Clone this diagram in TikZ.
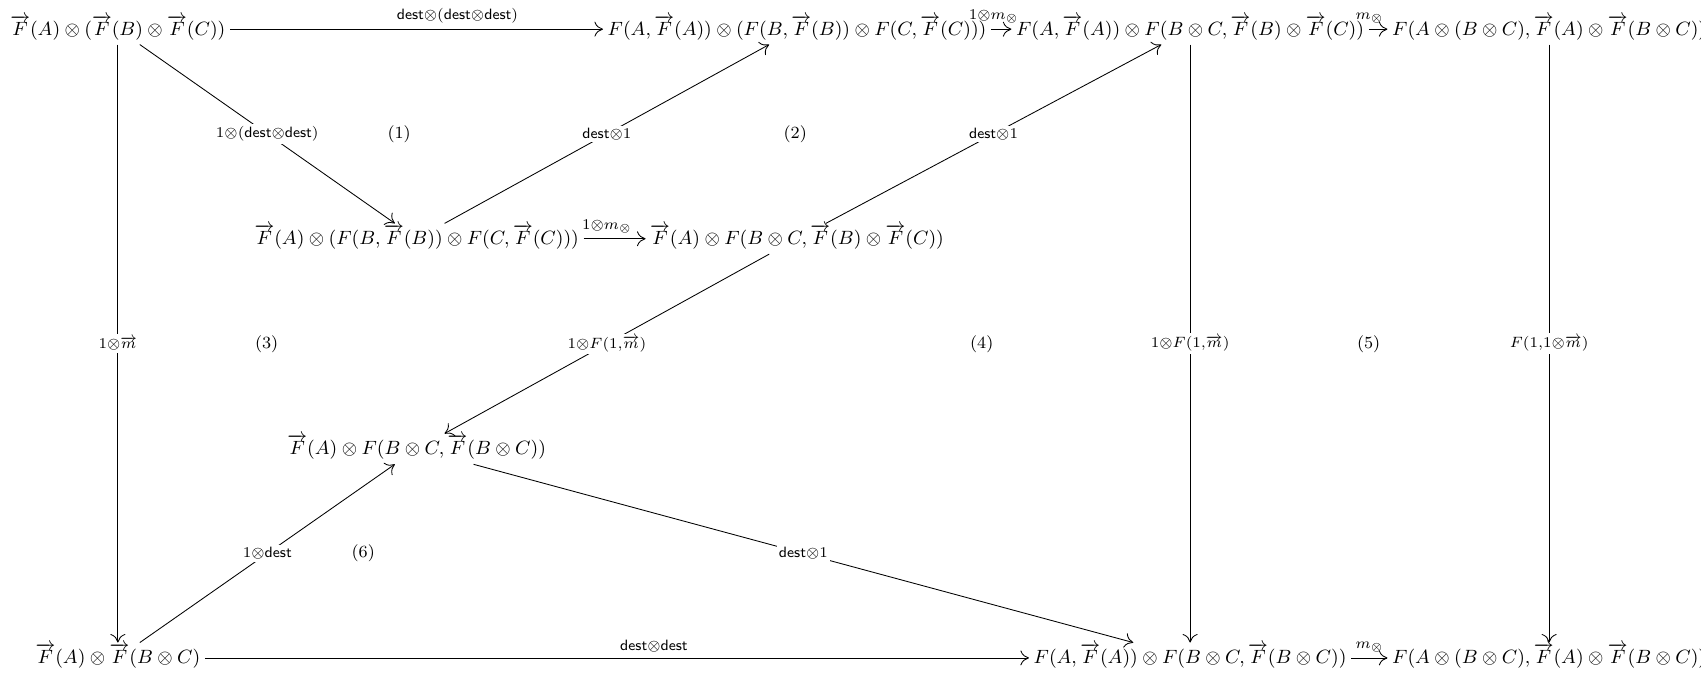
\documentclass[tikz,border=0pt]{standalone}
\usepackage{amsmath,amssymb}
\usepackage{tikz}
\usetikzlibrary{arrows.meta,calc}
\newcommand{\vF}{\overrightarrow{F}}
\newcommand{\vm}{\overrightarrow{m}}
\newcommand{\dest}{\mathsf{dest}}

\begin{document}
\begin{tikzpicture}[
  obj/.style={inner sep=2pt, font=\small, text height=7.8pt, text depth=2.2pt},
  arr/.style={-{To[length=4pt,width=7pt]}},
  lab/.style={inner sep=2.5pt, execute at begin node=$\scriptstyle, execute at end node=$},
  desc/.style={lab, fill=white, inner sep=1pt},
  reg/.style={font=\footnotesize}]
  \useasboundingbox (0,0) rectangle (28,11.16);
  % objects
  \node[obj] (top1) at (1.94,10.68) {$\vF(A)\otimes(\vF(B)\otimes\vF(C))$};
  \node[obj] (top2) at (13.12,10.68) {$F(A,\vF(A))\otimes(F(B,\vF(B))\otimes F(C,\vF(C)))$};
  \node[obj] (top3) at (19.59,10.68) {$F(A,\vF(A))\otimes F(B\otimes C,\vF(B)\otimes\vF(C))$};
  \node[obj] (top4) at (25.50,10.68) {$F(A\otimes(B\otimes C),\vF(A)\otimes\vF(B\otimes C))$};
  \node[obj] (mid1) at (6.86,7.23) {$\vF(A)\otimes(F(B,\vF(B))\otimes F(C,\vF(C)))$};
  \node[obj] (mid2) at (13.12,7.23) {$\vF(A)\otimes F(B\otimes C,\vF(B)\otimes\vF(C))$};
  \node[obj] (low1) at (6.86,3.77) {$\vF(A)\otimes F(B\otimes C,\vF(B\otimes C))$};
  \node[obj] (bot1) at (1.94,0.33) {$\vF(A)\otimes\vF(B\otimes C)$};
  \node[obj] (bot2) at (19.59,0.33) {$F(A,\vF(A))\otimes F(B\otimes C,\vF(B\otimes C))$};
  \node[obj] (bot3) at (25.50,0.33) {$F(A\otimes(B\otimes C),\vF(A)\otimes\vF(B\otimes C))$};
  % morphisms
  \draw[arr] (top1) -- (top2) node[lab,above] at ($(top1)!.5!(top2)$) {\dest\otimes(\dest\otimes\dest)};
  \draw[arr] (top2) -- (top3) node[lab,above] at ($(top2)!.5!(top3)$) {1\otimes m_\otimes};
  \draw[arr] (top3) -- (top4) node[lab,above] at ($(top3)!.5!(top4)$) {m_\otimes};
  \draw[arr] (top1) -- (mid1) node[desc] at ($(top1)!.5!(mid1)$) {1\otimes(\dest\otimes\dest)};
  \draw[arr] (mid1) -- (top2) node[desc] at ($(mid1)!.5!(top2)$) {\dest\otimes 1};
  \draw[arr] (mid1) -- (mid2) node[lab,above] at ($(mid1)!.5!(mid2)$) {1\otimes m_\otimes};
  \draw[arr] (mid2) -- (top3) node[desc] at ($(mid2)!.5!(top3)$) {\dest\otimes 1};
  \draw[arr] (mid2) -- (low1) node[desc] at ($(mid2)!.5!(low1)$) {1\otimes F(1,\vm)};
  \draw[arr] (top1) -- (bot1) node[desc] at ($(top1)!.5!(bot1)$) {1\otimes\vm};
  \draw[arr] (bot1) -- (low1) node[desc] at ($(bot1)!.5!(low1)$) {1\otimes\dest};
  \draw[arr] (low1) -- (bot2) node[desc] at ($(low1)!.5!(bot2)$) {\dest\otimes 1};
  \draw[arr] (bot1) -- (bot2) node[lab,above] at ($(bot1)!.5!(bot2)$) {\dest\otimes\dest};
  \draw[arr] (top3) -- (bot2) node[desc] at ($(top3)!.5!(bot2)$) {1\otimes F(1,\vm)};
  \draw[arr] (top4) -- (bot3) node[desc] at ($(top4)!.5!(bot3)$) {F(1,1\otimes\vm)};
  \draw[arr] (bot2) -- (bot3) node[lab,above] at ($(bot2)!.5!(bot3)$) {m_\otimes};
  % regions
  \node[reg] (r1) at (6.57,8.95) {$(1)$};
  \node[reg] (r2) at (13.09,8.95) {$(2)$};
  \node[reg] (r3) at (4.39,5.50) {$(3)$};
  \node[reg] (r4) at (16.16,5.50) {$(4)$};
  \node[reg] (r5) at (22.53,5.50) {$(5)$};
  \node[reg] (r6) at (5.98,2.05) {$(6)$};
\end{tikzpicture}
\end{document}
